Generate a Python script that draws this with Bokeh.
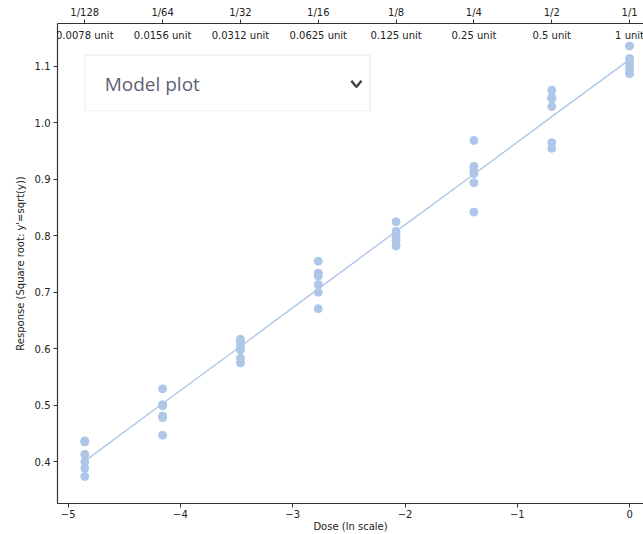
import numpy as np
from bokeh.plotting import figure
from bokeh.models import (Range1d, LinearAxis, FixedTicker, CustomJSTickFormatter,
                          BoxAnnotation, Label, ColumnDataSource)
from bokeh.core.properties import value
from bokeh.embed import file_html
from bokeh.resources import INLINE

# Dilution series (fraction of the full dose) and their labels
dose_fraction = [1/128, 1/64, 1/32, 1/16, 1/8, 1/4, 1/2, 1.0]
fraction_labels = ["1/128", "1/64", "1/32", "1/16", "1/8", "1/4", "1/2", "1/1"]
unit_labels = ["0.0078 unit", "0.0156 unit", "0.0312 unit", "0.0625 unit",
               "0.125 unit", "0.25 unit", "0.5 unit", "1 unit"]

# Square-root transformed responses, replicates per dose
resp_1_128 = [0.437, 0.435, 0.413, 0.400, 0.388, 0.374]
resp_1_64 = [0.529, 0.501, 0.499, 0.481, 0.478, 0.447]
resp_1_32 = [0.617, 0.611, 0.604, 0.598, 0.583, 0.575]
resp_1_16 = [0.755, 0.734, 0.729, 0.714, 0.700, 0.671]
resp_1_8 = [0.825, 0.808, 0.803, 0.797, 0.791, 0.782]
resp_1_4 = [0.969, 0.923, 0.915, 0.910, 0.894, 0.842]
resp_1_2 = [1.058, 1.045, 1.043, 1.029, 0.965, 0.955]
resp_1_1 = [1.136, 1.114, 1.108, 1.101, 1.094, 1.087]

# Fitted model response at each dose
fitted = [0.401, 0.503, 0.604, 0.706, 0.808, 0.909, 1.011, 1.112]

y_ticks = [0.4, 0.5, 0.6, 0.7, 0.8, 0.9, 1.0, 1.1]
x_ticks = [-5, -4, -3, -2, -1, 0]

ln_dose = np.log(np.array(dose_fraction))
groups = [resp_1_128, resp_1_64, resp_1_32, resp_1_16, resp_1_8, resp_1_4, resp_1_2, resp_1_1]
pts_x = [float(ln_dose[i]) for i, g in enumerate(groups) for _ in g]
pts_y = [v for g in groups for v in g]

BLUE = "#aec7e8"
AXIS = "#333333"
TXT = "#222222"
FONT = "DejaVu Sans"

x0, x1 = -5.095, 0.124
y0, y1 = 0.326, 1.176

p = figure(width=643, height=534, x_range=Range1d(x0, x1), y_range=Range1d(y0, y1),
           output_backend="svg", toolbar_location=None,
           min_border_left=57, min_border_right=0, min_border_top=23, min_border_bottom=28,
           x_axis_label="Dose (ln scale)", y_axis_label="Response (Square root: y'=sqrt(y))")
p.outline_line_color = None
p.grid.visible = False
p.background_fill_color = "white"
p.border_fill_color = "white"

# Bottom and left axes in a plain style
for ax in (p.xaxis[0], p.yaxis[0]):
    ax.axis_line_color = AXIS
    ax.axis_line_width = 1.2
    ax.major_tick_line_color = AXIS
    ax.major_tick_out = 4
    ax.major_tick_in = 0
    ax.minor_tick_line_color = None
    ax.major_label_text_font = FONT
    ax.major_label_text_font_size = "10px"
    ax.major_label_text_color = TXT
    ax.axis_label_text_font = FONT
    ax.axis_label_text_font_size = "10px"
    ax.axis_label_text_font_style = "normal"
    ax.axis_label_text_color = TXT

p.xaxis[0].ticker = FixedTicker(ticks=x_ticks)
p.xaxis[0].formatter = CustomJSTickFormatter(
    code="return tick.toFixed(0).replace('-', '\u2212');")
p.xaxis[0].major_label_standoff = 2
p.xaxis[0].axis_label_standoff = 0
p.yaxis[0].ticker = FixedTicker(ticks=y_ticks)
p.yaxis[0].formatter = CustomJSTickFormatter(code="return tick.toFixed(1);")
p.yaxis[0].major_label_standoff = 3
p.yaxis[0].axis_label_standoff = 6

# Top axis with dilution fractions
top = LinearAxis(ticker=FixedTicker(ticks=[float(v) for v in ln_dose]),
                 formatter=CustomJSTickFormatter(
                     args=dict(pos=[float(v) for v in ln_dose], labels=fraction_labels),
                     code="""
                     for (let i = 0; i < pos.length; i++) {
                         if (Math.abs(pos[i] - tick) < 1e-6) return labels[i];
                     }
                     return '';
                     """))
top.axis_line_color = AXIS
top.axis_line_width = 1.2
top.major_tick_line_color = AXIS
top.major_tick_out = 4
top.major_tick_in = 0
top.minor_tick_line_color = None
top.major_label_text_font = FONT
top.major_label_text_font_size = "10px"
top.major_label_text_color = TXT
top.major_label_standoff = 2
p.add_layout(top, "above")

# Plot selector box, kept beneath the glyphs
selector = BoxAnnotation(left=-4.853, right=-2.311, top=1.120, bottom=1.0215,
                         fill_color="white", fill_alpha=1.0,
                         line_color="#c8c8c8", line_width=1.2, level="underlay")
p.add_layout(selector)

# Fitted line and observations
p.line(x=[float(v) for v in ln_dose], y=fitted, line_color=BLUE, line_width=1.4)
src = ColumnDataSource(data=dict(x=pts_x, y=pts_y))
p.scatter("x", "y", source=src, size=8, fill_color=BLUE, line_color=BLUE)

# Unit amounts just under the top axis
p.text(x=[float(v) for v in ln_dose], y=[y1] * len(unit_labels), text=unit_labels,
       text_align="center", text_baseline="top", y_offset=6,
       text_font=value(FONT), text_font_size="10px", text_color=TXT)

# Selector caption and chevron
p.add_layout(Label(x=-4.853, y=1.069, x_offset=20, text="Model plot",
                   text_baseline="middle", text_font="Open Sans",
                   text_font_size="19px", text_color="#5d5f73"))
p.line(x=[-2.478, -2.433, -2.388], y=[1.0747, 1.0637, 1.0747],
       line_color="#444444", line_width=2.5)

open("out.html", "w").write(file_html(p, INLINE))
